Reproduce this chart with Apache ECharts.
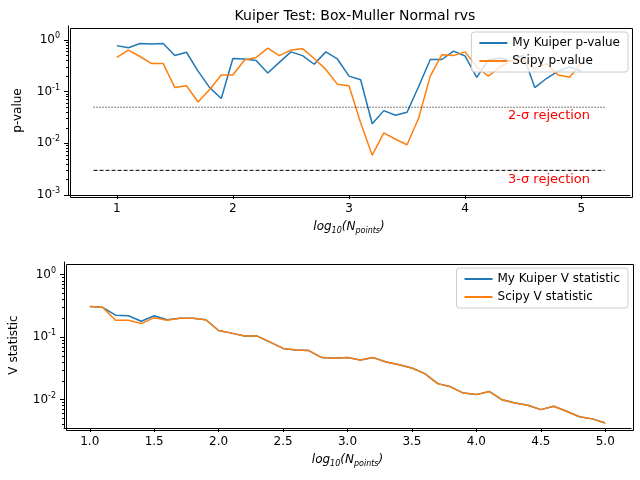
<!DOCTYPE html>
<html>
<head>
<meta charset="utf-8">
<script src="https://cdn.jsdelivr.net/npm/echarts@6/dist/echarts.min.js"></script>
<style>body{margin:0}#c{width:640px;height:480px}</style>
</head>
<body>
<div id="c"></div>
<script>
var logN = [];
for (var i = 0; i <= 40; i++) logN.push(+(1 + i * 0.1).toFixed(1));

var myP = [0.78,0.71,0.86,0.84,0.86,0.50,0.58,0.25,0.12,0.074,0.44,0.43,0.40,0.23,0.37,0.59,0.50,0.34,0.59,0.43,
  0.20,0.17,0.024,0.043,0.035,0.040,0.126,0.42,0.42,0.61,0.49,0.19,0.41,0.45,0.39,0.51,0.12,0.18,0.25,0.30,0.25];
var scipyP = [0.46,0.64,0.48,0.35,0.35,0.12,0.13,0.063,0.11,0.21,0.21,0.41,0.46,0.70,0.50,0.64,0.68,0.44,0.27,0.14,
  0.13,0.025,0.0059,0.016,0.012,0.0094,0.031,0.20,0.52,0.50,0.59,0.30,0.20,0.30,0.40,0.40,0.28,0.35,0.21,0.19,0.36];
var scipyV = [0.31,0.30,0.187,0.187,0.165,0.205,0.187,0.20,0.20,0.19,0.128,0.116,0.104,0.104,0.083,0.066,0.062,0.061,0.047,0.046,
  0.047,0.043,0.047,0.040,0.036,0.032,0.026,0.018,0.016,0.0127,0.012,0.0135,0.0099,0.0088,0.0081,0.0069,0.0078,0.0065,0.0053,0.0049,0.0042];
var myV = scipyV.slice();
myV[2] = 0.225; myV[3] = 0.22; myV[4] = 0.18; myV[5] = 0.22; myV[6] = 0.19;

var sigma2 = 0.05, sigma3 = 0.003;
var lineX = [0.8, 5.2];

function pairs(xs, ys) { return xs.map(function (x, i) { return [x, ys[i]]; }); }

var font = 'DejaVu Sans';
var logLabel = {
  color: '#000', fontFamily: font, fontSize: 12,
  formatter: function (v) { return '{b|10}{s|' + Math.round(Math.log10(v)) + '}'; },
  rich: { b: { fontSize: 12, fontFamily: font, color: '#000' }, s: { fontSize: 8, fontFamily: font, color: '#000', verticalAlign: 'top', padding: [0, 0, 8, 0] } }
};
var xName = '{i|log}{n|10}{i|(N}{ns|points}{i|)}';
var xRich = {
  i: { fontStyle: 'italic', fontSize: 12, fontFamily: font, color: '#000' },
  n: { fontStyle: 'italic', fontSize: 8, fontFamily: font, color: '#000', padding: [8, 0, 0, 0] },
  ns: { fontStyle: 'italic', fontSize: 8, fontFamily: font, color: '#000', padding: [8, 0, 0, 0] }
};
var axisCommon = {
  axisLine: { onZero: false, lineStyle: { color: '#000' } },
  axisTick: { inside: false, length: 4, lineStyle: { color: '#000' } },
  splitLine: { show: false }
};

var option = {
  animation: false,
  color: ['#1f77b4', '#ff7f0e'],
  title: { text: 'Kuiper Test: Box-Muller Normal rvs', left: 350, top: 4, textAlign: 'center',
    textStyle: { fontFamily: font, fontSize: 14, fontWeight: 'normal', color: '#000' } },
  grid: [
    { left: 68, right: 10, top: 26, height: 169 },
    { left: 64, right: 9, top: 262, height: 166 }
  ],
  legend: [
    { data: ['My Kuiper p-value', 'Scipy p-value'], orient: 'vertical', right: 12, top: 32,
      itemWidth: 28, itemHeight: 2, itemGap: 6, backgroundColor: 'rgba(255,255,255,0.8)',
      borderColor: '#ccc', borderWidth: 1, borderRadius: 3, padding: [5, 8],
      textStyle: { fontFamily: font, fontSize: 12, color: '#000' }, icon: 'rect' },
    { data: ['My Kuiper V statistic', 'Scipy V statistic'], orient: 'vertical', right: 12, top: 268,
      itemWidth: 28, itemHeight: 2, itemGap: 6, backgroundColor: 'rgba(255,255,255,0.8)',
      borderColor: '#ccc', borderWidth: 1, borderRadius: 3, padding: [5, 8],
      textStyle: { fontFamily: font, fontSize: 12, color: '#000' }, icon: 'rect' }
  ],
  xAxis: [
    Object.assign({ type: 'value', gridIndex: 0, min: 0.58, max: 5.42,
      axisLabel: { color: '#000', fontFamily: font, fontSize: 12, customValues: [1, 2, 3, 4, 5] },
      name: xName, nameLocation: 'middle', nameGap: 24, nameTextStyle: { rich: xRich } }, axisCommon,
      { axisTick: { length: 4, lineStyle: { color: '#000' }, customValues: [1, 2, 3, 4, 5] } }),
    Object.assign({ type: 'value', gridIndex: 1, min: 0.8, max: 5.2,
      axisLabel: { color: '#000', fontFamily: font, fontSize: 12, customValues: [1, 1.5, 2, 2.5, 3, 3.5, 4, 4.5, 5],
        formatter: function (v) { return v.toFixed(1); } },
      name: xName, nameLocation: 'middle', nameGap: 24, nameTextStyle: { rich: xRich } }, axisCommon,
      { axisTick: { length: 4, lineStyle: { color: '#000' }, customValues: [1, 1.5, 2, 2.5, 3, 3.5, 4, 4.5, 5] } })
  ],
  yAxis: [
    Object.assign({ type: 'log', gridIndex: 0, min: 0.001, max: 1.87, logBase: 10,
      axisLabel: Object.assign({ customValues: [0.001, 0.01, 0.1, 1] }, logLabel),
      minorTick: { show: true, length: 2, splitNumber: 9, lineStyle: { color: '#000' } },
      name: 'p-value', nameLocation: 'middle', nameGap: 44, nameTextStyle: { fontFamily: font, fontSize: 12, color: '#000' } }, axisCommon,
      { axisTick: { length: 4, lineStyle: { color: '#000' }, customValues: [0.001, 0.01, 0.1, 1] } }),
    Object.assign({ type: 'log', gridIndex: 1, min: 0.0035, max: 1.6, logBase: 10,
      axisLabel: Object.assign({ customValues: [0.01, 0.1, 1] }, logLabel),
      minorTick: { show: true, length: 2, splitNumber: 9, lineStyle: { color: '#000' } },
      name: 'V statistic', nameLocation: 'middle', nameGap: 44, nameTextStyle: { fontFamily: font, fontSize: 12, color: '#000' } }, axisCommon,
      { axisTick: { length: 4, lineStyle: { color: '#000' }, customValues: [0.01, 0.1, 1] } })
  ],
  graphic: [
    { type: 'text', left: 508, top: 109, style: { text: '2-σ rejection', fill: 'red', font: '13px "DejaVu Sans"' } },
    { type: 'text', left: 508, top: 173, style: { text: '3-σ rejection', fill: 'red', font: '13px "DejaVu Sans"' } }
  ],
  series: [
    { name: 'My Kuiper p-value', type: 'line', xAxisIndex: 0, yAxisIndex: 0, showSymbol: false, lineStyle: { width: 1.5 }, data: pairs(logN, myP) },
    { name: 'Scipy p-value', type: 'line', xAxisIndex: 0, yAxisIndex: 0, showSymbol: false, lineStyle: { width: 1.5 }, data: pairs(logN, scipyP) },
    { name: '2sigma', type: 'line', xAxisIndex: 0, yAxisIndex: 0, showSymbol: false, silent: true,
      lineStyle: { color: '#000', width: 1, type: [1, 2] }, data: pairs(lineX, [sigma2, sigma2]) },
    { name: '3sigma', type: 'line', xAxisIndex: 0, yAxisIndex: 0, showSymbol: false, silent: true,
      lineStyle: { color: '#000', width: 1, type: [4, 2] }, data: pairs(lineX, [sigma3, sigma3]) },
    { name: 'My Kuiper V statistic', type: 'line', xAxisIndex: 1, yAxisIndex: 1, showSymbol: false, lineStyle: { width: 1.5 }, data: pairs(logN, myV) },
    { name: 'Scipy V statistic', type: 'line', xAxisIndex: 1, yAxisIndex: 1, showSymbol: false, lineStyle: { width: 1.5 }, data: pairs(logN, scipyV) }
  ]
};
// matplotlib draws a full frame round each axes
option.graphic.push(
  { type: 'rect', left: 68, top: 26, shape: { width: 562, height: 169 }, style: { fill: 'none', stroke: '#000', lineWidth: 1 }, silent: true, z: -1 },
  { type: 'rect', left: 64, top: 262, shape: { width: 567, height: 166 }, style: { fill: 'none', stroke: '#000', lineWidth: 1 }, silent: true, z: -1 }
);
echarts.init(document.getElementById('c')).setOption(option);
</script>
</body>
</html>
